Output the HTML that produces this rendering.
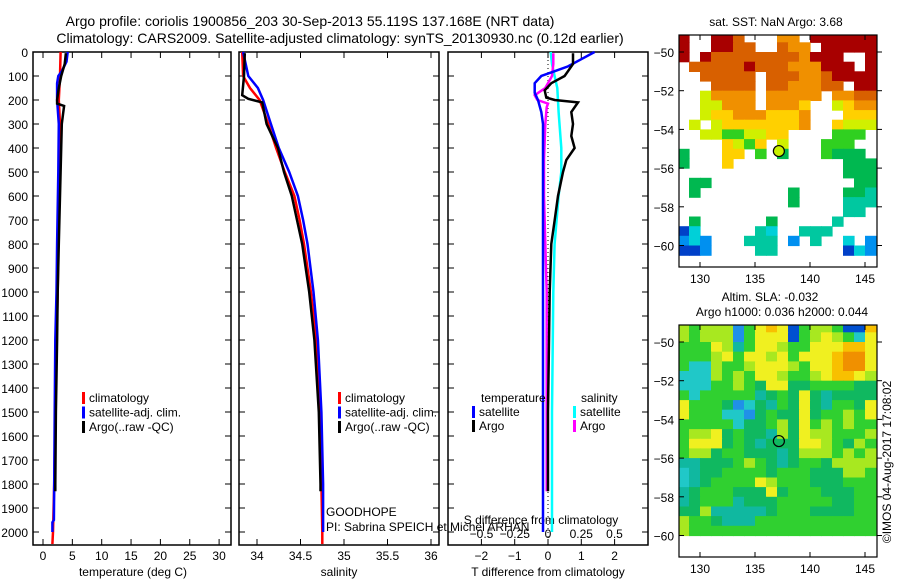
<!DOCTYPE html>
<html><head><meta charset="utf-8"><style>
body{margin:0;background:#fff}
svg{display:block;font-family:"Liberation Sans",sans-serif}
</style></head><body>
<svg id="chart" width="900" height="580" viewBox="0 0 900 580">
<text x="310" y="26" font-size="14" text-anchor="middle">Argo profile: coriolis 1900856_203 30-Sep-2013 55.119S 137.168E (NRT data)</text>
<text x="340" y="43" font-size="14" text-anchor="middle">Climatology: CARS2009. Satellite-adjusted climatology: synTS_20130930.nc (0.12d earlier)</text>
<g id="g"></g>
</svg>
<script>
// ---- profile data ----
const climTDepth=[0,100,200,300,500,800,1000,1200,1500,1800,2000,2050];
const climTVal=[3.0,2.9,2.7,2.9,2.8,2.6,2.5,2.3,2.1,1.9,1.7,1.6];
const satTDepth=[0,40,80,100,130,200,300,500,800,1000,1200,1500,1800,1950,1960,2000];
const satTVal=[4.2,4.0,3.2,2.6,2.4,2.4,2.7,2.6,2.4,2.3,2.1,2.0,1.9,1.85,1.6,1.6];
const argoTDepth=[5,50,100,150,200,215,225,260,300,400,600,800,1000,1200,1500,1800,1830];
const argoTVal=[3.9,3.7,3.1,2.7,2.4,2.4,3.6,3.4,3.2,3.1,2.9,2.7,2.5,2.4,2.2,2.1,2.1];
const climSDepth=[0,100,150,200,300,400,500,600,700,800,1000,1200,1500,1800,2000,2050];
const climSVal=[33.83,33.84,33.92,34.03,34.13,34.22,34.32,34.43,34.49,34.54,34.62,34.68,34.72,34.74,34.75,34.75];
const satSDepth=[0,100,150,200,300,400,500,600,700,800,1000,1200,1500,1800,2000];
const satSVal=[33.84,33.90,34.01,34.07,34.16,34.25,34.37,34.47,34.53,34.58,34.65,34.70,34.74,34.76,34.76];
const argoSDepth=[5,100,180,195,210,300,400,500,600,700,800,1000,1200,1500,1800,1830];
const argoSVal=[33.86,33.85,33.83,33.9,34.06,34.11,34.24,34.31,34.4,34.46,34.52,34.6,34.66,34.71,34.73,34.73];
const dTArgoDepth=[5,50,80,100,130,160,190,200,210,250,300,350,400,450,500,600,700,800,1000,1500,1830];
const dTArgoVal=[0.75,0.75,0.6,0.5,0.1,-0.1,-0.05,0.2,0.9,0.7,0.75,0.7,0.8,0.55,0.45,0.3,0.2,0.1,0.05,0.0,0.0];
const dTSatDepth=[0,30,60,80,100,130,170,200,250,300,500,1000,1500,2000];
const dTSatVal=[1.4,1.0,0.6,0.2,-0.2,-0.4,-0.4,-0.3,-0.2,-0.15,-0.15,-0.15,-0.15,-0.15];
const dSSatDepth=[0,50,100,150,250,400,500,600,800,1000,1500,2000];
const dSSatVal=[0.02,0.03,0.05,0.07,0.08,0.1,0.1,0.08,0.05,0.04,0.03,0.03];
const dSArgoDepth=[5,50,100,150,180,200,215,230,300,450,600,800,1000,1500,1830];
const dSArgoVal=[0.04,0.04,0.03,-0.02,-0.1,-0.08,0.0,-0.01,-0.02,-0.03,-0.03,-0.02,-0.01,-0.01,-0.01];
const depthTicks=[0,100,200,300,400,500,600,700,800,900,1000,1100,1200,1300,1400,1500,1600,1700,1800,1900,2000];
const tempTicks=[0,5,10,15,20,25,30];
const salTicks=[34,34.5,35,35.5,36];
const dTTicks=[-2,-1,0,1,2];
const dSTicks=[-0.5,-0.25,0,0.25,0.5];
// ---- map data (rows lat -49 → -61 step 0.5, cols lon 128..145 step 1) ----
const sstRows=[
"r..rro...OO.rrrrrr","r..rroo..oOO.rrrrr","r.rooooooooOrrr..r",".oooooroooOOOrrr.r",
"..ooooo.oooOOorrrr","...oooo.ooOOOoo.rr","..YOOOO.OOOOO.OOoo","..YYOOO.OOOy..YyOO",
"..YyyOOOyyyO...yyy",".Y.YyyyyyyyO..yYYY","..YYggYYyy....ggg.","....yYgy.Y...ggg..",
"G...yy.g.G...gGGG.","G...y..........GGG","...............GGG",".GG.............GG",
".G........G....GGt","..........G....ttt","...............tt.",".G......G.....t...",
"Bc.....tc..ttt....","bcb...ttt.b.t..c.b","BBb....tt......Bcb",".................."];
const slaRows=[
"lglllbgyoyBgllgBBo","lglllbgyyyBglylgcy","gggyltgyylggyyyooy","ggglygyylygyyyoOOy",
"gcclgglyyylgyyoOOy","ccclglgyylgglyooyl","cccgglgGyyGGggggGG","gcgggggtGgGyGtGGGG",
"ygggGbcGtgGyGtggGy","ygggccbGgGGyGgglgy","gggggcGGglGyglglgg","gllyGgGGtlGyllgggl",
"gyyyGgGtGGGyylgGlg","gllGggGGGtGlllglgl","ttGGGglgGtGggGllll","ctGGggggGgggGGGllg",
"ctGggggylgggGGGggg","tGgggGGGyGgggGGGgg","tGgggtGGGgggggGGgg","GGltttttGgggGGGGgg",
"lggGtttggggggggggg","lggggggggggggggggg"];
const latTicks=[-50,-52,-54,-56,-58,-60];
const lonTicks=[130,135,140,145];
const argoLon=137.17, argoLat=-55.12;

const NS="http://www.w3.org/2000/svg";
const G=document.getElementById('g');
function mk(tag,attrs,parent){const e=document.createElementNS(NS,tag);for(const k in attrs)e.setAttribute(k,attrs[k]);(parent||G).appendChild(e);return e;}
function txt(x,y,s,size,anchor,name){const t=mk('text',{x:x,y:y,'font-size':size,'text-anchor':anchor||'middle'});t.textContent=s;


return t;}

const Y0=52, PY=0.24; // depth scale
const yD=d=>Y0+d*PY;
const xT=v=>43+v*5.87;
const xS=v=>257+(v-34)*87;
const xdT=v=>548+v*33.3;
const xdS=v=>548+v*133;

function frame(x1,x2,name){
 const r=mk('rect',{x:x1,y:Y0,width:x2-x1,height:545-Y0,fill:'none',stroke:'#000','stroke-width':1.5});
 
 
 depthTicks.forEach(d=>{mk('line',{x1:x1,x2:x1+6,y1:yD(d),y2:yD(d),stroke:'#000'});mk('line',{x1:x2-6,x2:x2,y1:yD(d),y2:yD(d),stroke:'#000'});});
}
function xticks(arr,f,x1,x2,ly,name){
 arr.forEach(v=>{const x=f(v);mk('line',{x1:x,x2:x,y1:Y0,y2:Y0+6,stroke:'#000'});mk('line',{x1:x,x2:x,y1:539,y2:545,stroke:'#000'});
 txt(x,ly,String(v).replace('-','−'),12,'middle',name);});
}
function series(dep,val,f,color,name,w){
 const pts=dep.map((d,i)=>f(val[i]).toFixed(1)+','+yD(d).toFixed(1)).join(' ');
 const p=mk('polyline',{points:pts,fill:'none',stroke:color,'stroke-width':w||2.5});
 
 
}
// depth labels
depthTicks.forEach(d=>{txt(28,yD(d)+5,String(d),12,'end','depth-tick-label');});
// panel 1
frame(33,231,'temperature-panel');
xticks(tempTicks,xT,33,231,560,'temperature-tick-label');
txt(133,576,'temperature (deg C)',12,'middle','temperature-axis-title');
series(climTDepth,climTVal,xT,'#f00','climatology-temperature-line');
series(satTDepth,satTVal,xT,'#00f','satellite-temperature-line');
series(argoTDepth,argoTVal,xT,'#000','argo-temperature-line');
// panel 2
frame(239,439,'salinity-panel');
xticks(salTicks,xS,239,439,560,'salinity-tick-label');
txt(339,576,'salinity',12,'middle','salinity-axis-title');
series(climSDepth,climSVal,xS,'#f00','climatology-salinity-line');
series(satSDepth,satSVal,xS,'#00f','satellite-salinity-line');
series(argoSDepth,argoSVal,xS,'#000','argo-salinity-line');
// panel 3
frame(448,648,'difference-panel');
xticks(dTTicks,xdT,448,648,560,'t-diff-tick-label');
dSTicks.forEach(v=>{txt(xdS(v),538,String(v).replace('-','−'),12,'middle','s-diff-tick-label');});
txt(541,524,'S difference from climatology',12,'middle','s-diff-axis-title');
txt(548,576,'T difference from climatology',12,'middle','t-diff-axis-title');
mk('line',{x1:548,x2:548,y1:Y0,y2:545,stroke:'#000','stroke-dasharray':'1,3'});
series(dSSatDepth,dSSatVal,xdS,'#0ff','satellite-salinity-diff-line');
series(dSArgoDepth,dSArgoVal,xdS,'#f0f','argo-salinity-diff-line');
series(dTSatDepth,dTSatVal,xdT,'#00f','satellite-temperature-diff-line');
series(dTArgoDepth,dTArgoVal,xdT,'#000','argo-temperature-diff-line');
// legends
function leg(x,y,color,label,name){mk('rect',{x:x,y:y-10,width:3,height:12,fill:color});txt(x+7,y,label,12,'start',name);}
[[82,'#f00','climatology'],[82,'#00f','satellite-adj. clim.'],[82,'#000','Argo(..raw -QC)']].forEach((l,i)=>leg(l[0],402+i*14.5,l[1],l[2],'legend-entry'));
[[338,'#f00','climatology'],[338,'#00f','satellite-adj. clim.'],[338,'#000','Argo(..raw -QC)']].forEach((l,i)=>leg(l[0],402+i*14.5,l[1],l[2],'legend-entry'));
txt(481,402,'temperature',12,'start','legend-heading-temperature');
txt(581,402,'salinity',12,'start','legend-heading-salinity');
leg(472,416,'#00f','satellite','legend-entry');leg(472,430,'#000','Argo','legend-entry');
leg(573,416,'#0ff','satellite','legend-entry');leg(573,430,'#f0f','Argo','legend-entry');
txt(326,516,'GOODHOPE',12,'start','project-label');
txt(326,531,'PI: Sabrina SPEICH et Michel ARHAN',12,'start','pi-label');
// ---- maps ----
const LON0=128.09, LONS=11;
const xL=l=>679+(l-LON0)*LONS;
function mapPanel(top,lat50y,rows,colors,name,title){
 const yLat=l=>lat50y+(-50-l)*19.35;
 const bottom=top===35?267:557;
 const cl=mk('clipPath',{id:'c'+top});mk('rect',{x:679,y:top,width:198,height:bottom-top},cl);
 const g=mk('g',{'clip-path':'url(#c'+top+')'});
 
 
 rows.forEach((row,i)=>{for(let j=0;j<row.length;j++){const c=colors[row[j]];if(!c)continue;
   const la=-49-0.5*i, lo=128+j;
   mk('rect',{x:xL(lo).toFixed(1),y:yLat(la).toFixed(1),width:LONS+0.6,height:9.7+0.6,fill:c},g);}});
 const r=mk('rect',{x:679,y:top,width:198,height:bottom-top,fill:'none',stroke:'#000','stroke-width':1.2});
 
 
 latTicks.forEach(l=>{const y=yLat(l);mk('line',{x1:679,x2:684,y1:y,y2:y,stroke:'#000'});mk('line',{x1:877,x2:882,y1:y,y2:y,stroke:'#000'});
   txt(674,y+5,String(l).replace('-','−'),12,'end',name+'-lat-label');});
 lonTicks.forEach(l=>{const x=xL(l);mk('line',{x1:x,x2:x,y1:top,y2:top+5,stroke:'#000'});mk('line',{x1:x,x2:x,y1:bottom-5,y2:bottom,stroke:'#000'});
   txt(x,bottom+16,String(l),12,'middle',name+'-lon-label');});
 return yLat;
}
const sstColors={r:'#a80000',o:'#d86000',O:'#f09000',y:'#ffd000',Y:'#d0f000',g:'#30d020',G:'#00b850',t:'#00c8a0',c:'#00d0d8',b:'#0090f0',B:'#0040c8'};
const slaColors={g:'#30d030',G:'#10b860',l:'#a8e820',y:'#f0f020',o:'#f8c000',O:'#f09000',t:'#10b8a0',c:'#20c8c8',b:'#2090e8',B:'#0050d0'};
txt(776,26,'sat. SST: NaN Argo: 3.68',12,'middle','sst-map-title');
const y1=mapPanel(35,52,sstRows,sstColors,'sst-map');
const m1=mk('circle',{cx:xL(argoLon),cy:y1(argoLat),r:5.5,fill:'#c8f000',stroke:'#000','stroke-width':1.2});


txt(770,301,'Altim. SLA: -0.032',12,'middle','sla-map-title');
txt(782,316,'Argo h1000: 0.036 h2000: 0.044',12,'middle','sla-map-subtitle');
const y2=mapPanel(325,342,slaRows,slaColors,'sla-map');
const m2=mk('circle',{cx:xL(argoLon),cy:y2(argoLat),r:5.5,fill:'none',stroke:'#000','stroke-width':1.2});


const cr=txt(0,0,'©IMOS 04-Aug-2017 17:08:02',12,'middle','copyright-label');
cr.setAttribute('transform','translate(891,462) rotate(-90)');
</script>
</body></html>
